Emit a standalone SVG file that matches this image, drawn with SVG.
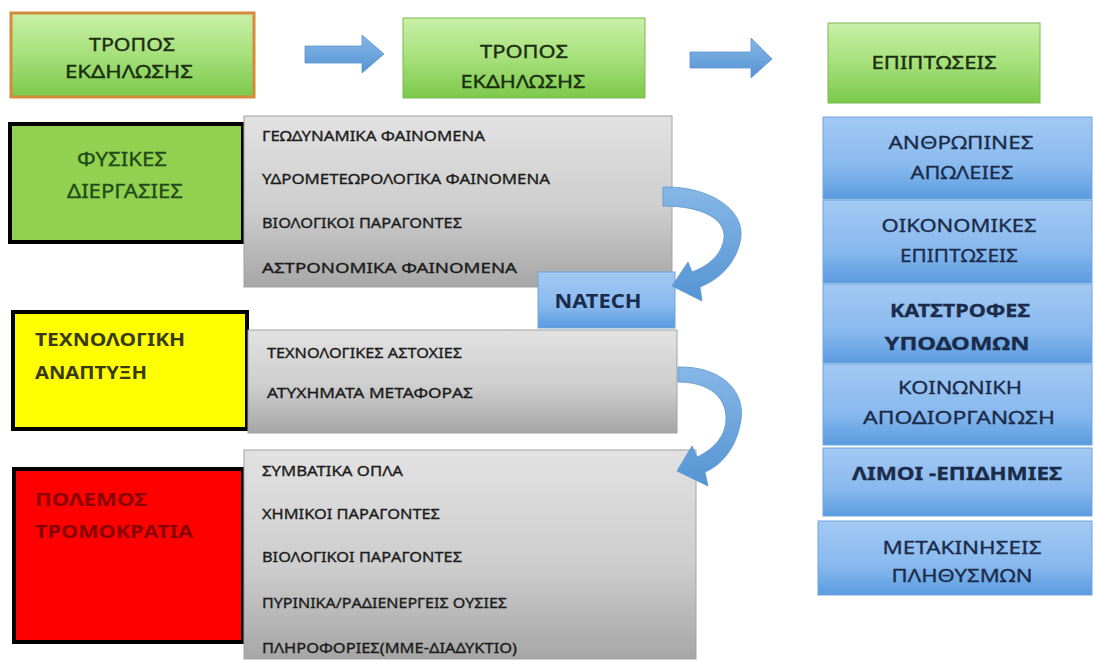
<svg xmlns="http://www.w3.org/2000/svg" width="1095" height="663" viewBox="0 0 1095 663">
  <defs>
    <linearGradient id="gGreen" x1="0" y1="0" x2="0" y2="1">
      <stop offset="0" stop-color="#c9f0a8"/>
      <stop offset="0.5" stop-color="#a6e07a"/>
      <stop offset="1" stop-color="#7cc94c"/>
    </linearGradient>
    <linearGradient id="gGray" x1="0" y1="0" x2="0" y2="1">
      <stop offset="0" stop-color="#e2e2e2"/>
      <stop offset="0.55" stop-color="#cdcdcd"/>
      <stop offset="1" stop-color="#a6a6a6"/>
    </linearGradient>
    <linearGradient id="gBlue" x1="0" y1="0" x2="0" y2="1">
      <stop offset="0" stop-color="#a3c9f3"/>
      <stop offset="0.6" stop-color="#88b9ee"/>
      <stop offset="1" stop-color="#5a9be0"/>
    </linearGradient>
    <linearGradient id="gArrow" x1="0" y1="0" x2="0" y2="1">
      <stop offset="0" stop-color="#86b7e6"/>
      <stop offset="1" stop-color="#5594d3"/>
    </linearGradient>
    <style>
      .hdr { fill: url(#gGreen); stroke: #7db84e; stroke-width: 1; }
      .hdr-first { fill: url(#gGreen); stroke: #d58a3c; stroke-width: 3; }
      .gray { fill: url(#gGray); stroke: #a2a2a2; stroke-width: 1; }
      .blue { fill: url(#gBlue); stroke: #6fa5dc; stroke-width: 1; }
      .cat { stroke: #000; stroke-width: 4; }
      .arrow { fill: url(#gArrow); stroke: #5b96cf; stroke-width: 0.8; }
      text { font-family: "Noto Sans", "Open Sans", "DejaVu Sans", sans-serif; }
      .ht { font-size: 18px; fill: #1a2e10; stroke: #1a2e10; stroke-width: 0.35; text-anchor: middle; }
      .it { font-size: 15px; fill: #1c1c1c; stroke: #1c1c1c; stroke-width: 0.35; }
      .bt { font-size: 18px; fill: #1b2b4a; stroke: #1b2b4a; stroke-width: 0.3; text-anchor: middle; }
      .ct { font-size: 19px; fill: #1f4a1a; stroke: #1f4a1a; stroke-width: 0.3; text-anchor: middle; }
    </style>
  </defs>

  <!-- column headers -->
  <g id="hdr-mode-1">
    <rect x="11" y="13" width="243" height="84" class="hdr-first"/>
    <text x="132" y="51" class="ht" textLength="86" lengthAdjust="spacingAndGlyphs">ΤΡΟΠΟΣ</text>
    <text x="129" y="78" class="ht" textLength="128" lengthAdjust="spacingAndGlyphs">ΕΚΔΗΛΩΣΗΣ</text>
  </g>
  <g id="hdr-mode-2">
    <rect x="403" y="18" width="242" height="80" class="hdr"/>
    <text x="524" y="58" class="ht" textLength="88" lengthAdjust="spacingAndGlyphs">ΤΡΟΠΟΣ</text>
    <text x="523" y="88" class="ht" textLength="125" lengthAdjust="spacingAndGlyphs">ΕΚΔΗΛΩΣΗΣ</text>
  </g>
  <g id="hdr-impact">
    <rect x="828" y="23" width="212" height="80" class="hdr"/>
    <text x="934" y="69" class="ht" textLength="125" lengthAdjust="spacingAndGlyphs">ΕΠΙΠΤΩΣΕΙΣ</text>
  </g>

  <!-- category boxes -->
  <g id="cat-natural">
    <rect x="10" y="124" width="233" height="118" fill="#92d050" class="cat"/>
    <text x="122" y="166" class="ct" textLength="90" lengthAdjust="spacingAndGlyphs">ΦΥΣΙΚΕΣ</text>
    <text x="125" y="198" class="ct" textLength="116" lengthAdjust="spacingAndGlyphs">ΔΙΕΡΓΑΣΙΕΣ</text>
  </g>
  <g id="cat-tech">
    <rect x="13" y="312" width="234" height="117" fill="#ffff00" class="cat"/>
    <text x="35" y="346" font-size="18" font-weight="bold" fill="#3a3a10" textLength="150" lengthAdjust="spacingAndGlyphs">ΤΕΧΝΟΛΟΓΙΚΗ</text>
    <text x="35" y="379" font-size="18" font-weight="bold" fill="#3a3a10" textLength="112" lengthAdjust="spacingAndGlyphs">ΑΝΑΠΤΥΞΗ</text>
  </g>
  <g id="cat-war">
    <rect x="14" y="469" width="229" height="173" fill="#ff0000" class="cat"/>
    <text x="35" y="506" font-size="18" font-weight="bold" fill="#8a0000" textLength="112" lengthAdjust="spacingAndGlyphs">ΠΟΛΕΜΟΣ</text>
    <text x="35" y="538" font-size="18" font-weight="bold" fill="#8a0000" textLength="158" lengthAdjust="spacingAndGlyphs">ΤΡΟΜΟΚΡΑΤΙΑ</text>
  </g>

  <!-- listing boxes -->
  <g id="list-natural">
    <rect x="244" y="116" width="428" height="171" class="gray"/>
    <text x="262" y="141" class="it" textLength="223" lengthAdjust="spacingAndGlyphs">ΓΕΩΔΥΝΑΜΙΚΑ ΦΑΙΝΟΜΕΝΑ</text>
    <text x="262" y="184" class="it" textLength="288" lengthAdjust="spacingAndGlyphs">ΥΔΡΟΜΕΤΕΩΡΟΛΟΓΙΚΑ ΦΑΙΝΟΜΕΝΑ</text>
    <text x="262" y="228" class="it" textLength="200" lengthAdjust="spacingAndGlyphs">ΒΙΟΛΟΓΙΚΟΙ ΠΑΡΑΓΟΝΤΕΣ</text>
    <text x="262" y="273" class="it" font-size="18" textLength="255" lengthAdjust="spacingAndGlyphs">ΑΣΤΡΟΝΟΜΙΚΑ ΦΑΙΝΟΜΕΝΑ</text>
  </g>
  <g id="list-tech">
    <rect x="248" y="330" width="429" height="103" class="gray"/>
    <text x="267" y="358" class="it" textLength="195" lengthAdjust="spacingAndGlyphs">ΤΕΧΝΟΛΟΓΙΚΕΣ ΑΣΤΟΧΙΕΣ</text>
    <text x="267" y="398" class="it" textLength="206" lengthAdjust="spacingAndGlyphs">ΑΤΥΧΗΜΑΤΑ ΜΕΤΑΦΟΡΑΣ</text>
  </g>
  <g id="list-war">
    <rect x="244" y="450" width="452" height="209" class="gray"/>
    <text x="262" y="476" class="it" textLength="141" lengthAdjust="spacingAndGlyphs">ΣΥΜΒΑΤΙΚΑ ΟΠΛΑ</text>
    <text x="262" y="519" class="it" textLength="178" lengthAdjust="spacingAndGlyphs">ΧΗΜΙΚΟΙ ΠΑΡΑΓΟΝΤΕΣ</text>
    <text x="262" y="562" class="it" textLength="200" lengthAdjust="spacingAndGlyphs">ΒΙΟΛΟΓΙΚΟΙ ΠΑΡΑΓΟΝΤΕΣ</text>
    <text x="262" y="608" class="it" textLength="245" lengthAdjust="spacingAndGlyphs">ΠΥΡΙΝΙΚΑ/ΡΑΔΙΕΝΕΡΓΕΙΣ ΟΥΣΙΕΣ</text>
    <text x="262" y="653" class="it" textLength="255" lengthAdjust="spacingAndGlyphs">ΠΛΗΡΟΦΟΡΙΕΣ(ΜΜΕ-ΔΙΑΔΥΚΤΙΟ)</text>
  </g>

  <g id="natech">
    <rect x="538" y="272" width="137" height="56" class="blue"/>
    <text x="598" y="308" font-size="20" font-weight="bold" fill="#1b2b4a" text-anchor="middle" textLength="87" lengthAdjust="spacingAndGlyphs">NATECH</text>
  </g>

  <!-- impact boxes -->
  <g id="imp-human">
    <rect x="823" y="117" width="269" height="82" class="blue"/>
    <text x="961" y="149" class="bt" textLength="145" lengthAdjust="spacingAndGlyphs">ΑΝΘΡΩΠΙΝΕΣ</text>
    <text x="962" y="179" class="bt" textLength="103" lengthAdjust="spacingAndGlyphs">ΑΠΩΛΕΙΕΣ</text>
  </g>
  <g id="imp-economic">
    <rect x="823" y="200" width="269" height="83" class="blue"/>
    <text x="959" y="232" class="bt" textLength="155" lengthAdjust="spacingAndGlyphs">ΟΙΚΟΝΟΜΙΚΕΣ</text>
    <text x="959" y="262" class="bt" textLength="118" lengthAdjust="spacingAndGlyphs">ΕΠΙΠΤΩΣΕΙΣ</text>
  </g>
  <g id="imp-infra">
    <rect x="823" y="284" width="269" height="79" class="blue"/>
    <text x="960" y="317" class="bt" font-weight="bold" textLength="140" lengthAdjust="spacingAndGlyphs">ΚΑΤΣΤΡΟΦΕΣ</text>
    <text x="957" y="350" class="bt" font-weight="bold" textLength="145" lengthAdjust="spacingAndGlyphs">ΥΠΟΔΟΜΩΝ</text>
  </g>
  <g id="imp-social">
    <rect x="823" y="364" width="269" height="81" class="blue"/>
    <text x="960" y="394" class="bt" textLength="124" lengthAdjust="spacingAndGlyphs">ΚΟΙΝΩΝΙΚΗ</text>
    <text x="959" y="424" class="bt" textLength="192" lengthAdjust="spacingAndGlyphs">ΑΠΟΔΙΟΡΓΑΝΩΣΗ</text>
  </g>
  <g id="imp-famine">
    <rect x="823" y="448" width="269" height="68" class="blue"/>
    <text x="957" y="480" class="bt" font-weight="bold" textLength="210" lengthAdjust="spacingAndGlyphs">ΛΙΜΟΙ -ΕΠΙΔΗΜΙΕΣ</text>
  </g>
  <g id="imp-migration">
    <rect x="818" y="521" width="274" height="74" class="blue"/>
    <text x="962" y="554" class="bt" textLength="159" lengthAdjust="spacingAndGlyphs">ΜΕΤΑΚΙΝΗΣΕΙΣ</text>
    <text x="962" y="582" class="bt" textLength="141" lengthAdjust="spacingAndGlyphs">ΠΛΗΘΥΣΜΩΝ</text>
  </g>

  <!-- connectors: block arrows -->
  <g id="connectors">
    <path class="arrow" d="M305,46 L362,46 L362,35 L384,54 L362,73 L362,63 L305,63 Z"/>
    <path class="arrow" d="M690,52 L751,52 L751,38 L772,59 L751,78 L751,68 L690,68 Z"/>
    <path class="arrow" d="M663,187 C712,186 748,212 740,242 C735,265 718,280 700,287 L702,301 L672,286 L688,262 L692,272 C708,266 722,255 724,238 C726,218 700,206 663,206 Z"/>
    <path class="arrow" d="M678,367 C725,366 748,395 740,425 C735,450 720,466 705,472 L708,486 L677,471 L692,446 L697,457 C712,450 725,438 726,420 C727,398 710,382 678,382 Z"/>
  </g>
</svg>
